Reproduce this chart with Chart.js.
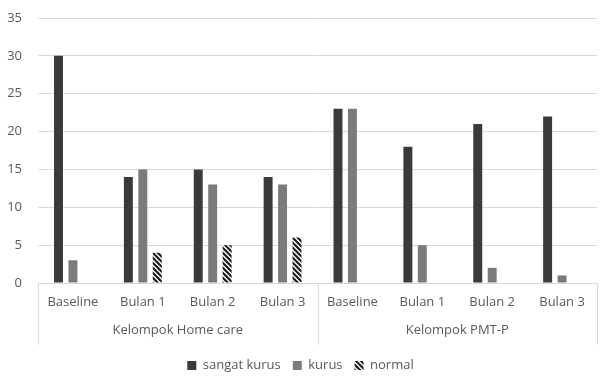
<!DOCTYPE html>
<html>
<head>
<meta charset="utf-8">
<script src="https://cdn.jsdelivr.net/npm/chart.js@4"></script>
<style>
  html, body { margin: 0; padding: 0; background: #fff; }
  #wrap { width: 601px; height: 376px; }
</style>
</head>
<body>
<div id="wrap"><canvas id="chart"></canvas></div>
<script>
const categories = ["Baseline", "Bulan 1", "Bulan 2", "Bulan 3", "Baseline", "Bulan 1", "Bulan 2", "Bulan 3"];
const groups = ["Kelompok Home care", "Kelompok PMT-P"];
const groupSize = 4;
const sangatKurus = [30, 14, 15, 14, 23, 18, 21, 22];
const kurus = [3, 15, 13, 13, 23, 5, 2, 1];
const normal = [0, 4, 5, 6, 0, 0, 0, 0];

// diagonal stripes for "normal"
function stripes() {
  const c = document.createElement("canvas");
  c.width = 5; c.height = 5;
  const g = c.getContext("2d");
  g.fillStyle = "#fff";
  g.fillRect(0, 0, 5, 5);
  g.strokeStyle = "#1a1a1a";
  g.lineWidth = 2.2;
  g.beginPath();
  g.moveTo(-1, -1); g.lineTo(6, 6);
  g.moveTo(-4, 1); g.lineTo(3, 8);
  g.moveTo(1, -4); g.lineTo(8, 3);
  g.stroke();
  return g.createPattern(c, "repeat");
}

const groupAxis = {
  id: "groupAxis",
  afterDraw(chart) {
    const ctx = chart.ctx;
    const x = chart.scales.x;
    const step = x.getPixelForValue(1) - x.getPixelForValue(0);
    const top = x.top;
    ctx.save();
    ctx.strokeStyle = "#d9d9d9";
    ctx.lineWidth = 1;
    for (let i = 0; i <= categories.length; i += groupSize) {
      const px = Math.round(x.getPixelForValue(i) - step / 2) + 0.5;
      ctx.beginPath();
      ctx.moveTo(px, top);
      ctx.lineTo(px, top + 62);
      ctx.stroke();
    }
    ctx.fillStyle = "#595959";
    ctx.font = "13px 'Open Sans'";
    ctx.textAlign = "center";
    ctx.textBaseline = "middle";
    groups.forEach((g, k) => {
      const a = x.getPixelForValue(k * groupSize);
      const b = x.getPixelForValue(k * groupSize + groupSize - 1);
      ctx.fillText(g, (a + b) / 2, top + 47);
    });
    ctx.restore();
  }
};

new Chart(document.getElementById("chart"), {
  type: "bar",
  data: {
    labels: categories,
    datasets: [
      { label: "sangat kurus", data: sangatKurus, backgroundColor: "#3a3a3a" },
      { label: "kurus", data: kurus, backgroundColor: "#7b7b7d" },
      { label: "normal", data: normal, backgroundColor: stripes() }
    ]
  },
  options: {
    responsive: true,
    maintainAspectRatio: false,
    animation: false,
    layout: { padding: { left: 4, right: 4, top: 0, bottom: -6 } },
    datasets: { bar: { categoryPercentage: 0.62, barPercentage: 0.62 } },
    scales: {
      x: {
        grid: { display: false },
        border: { color: "#d9d9d9" },
        ticks: { color: "#595959", font: { family: "Open Sans", size: 13 }, padding: 3, maxRotation: 0 },
        afterFit(scale) { scale.height = 64; }
      },
      y: {
        min: 0,
        max: 35,
        ticks: { stepSize: 5, color: "#595959", font: { family: "Open Sans", size: 13 }, padding: 16 },
        grid: { color: "#d9d9d9", drawTicks: false },
        border: { display: false },
        afterFit(scale) {
          scale.width = 34;
          scale.paddingTop = 18;
          scale.paddingBottom = 0;
        }
      }
    },
    plugins: {
      legend: {
        position: "bottom",
        labels: {
          color: "#595959",
          font: { family: "Open Sans", size: 13 },
          boxWidth: 9,
          boxHeight: 9,
          padding: 12
        }
      },
      tooltip: { enabled: false }
    }
  },
  plugins: [groupAxis]
});
</script>
</body>
</html>
